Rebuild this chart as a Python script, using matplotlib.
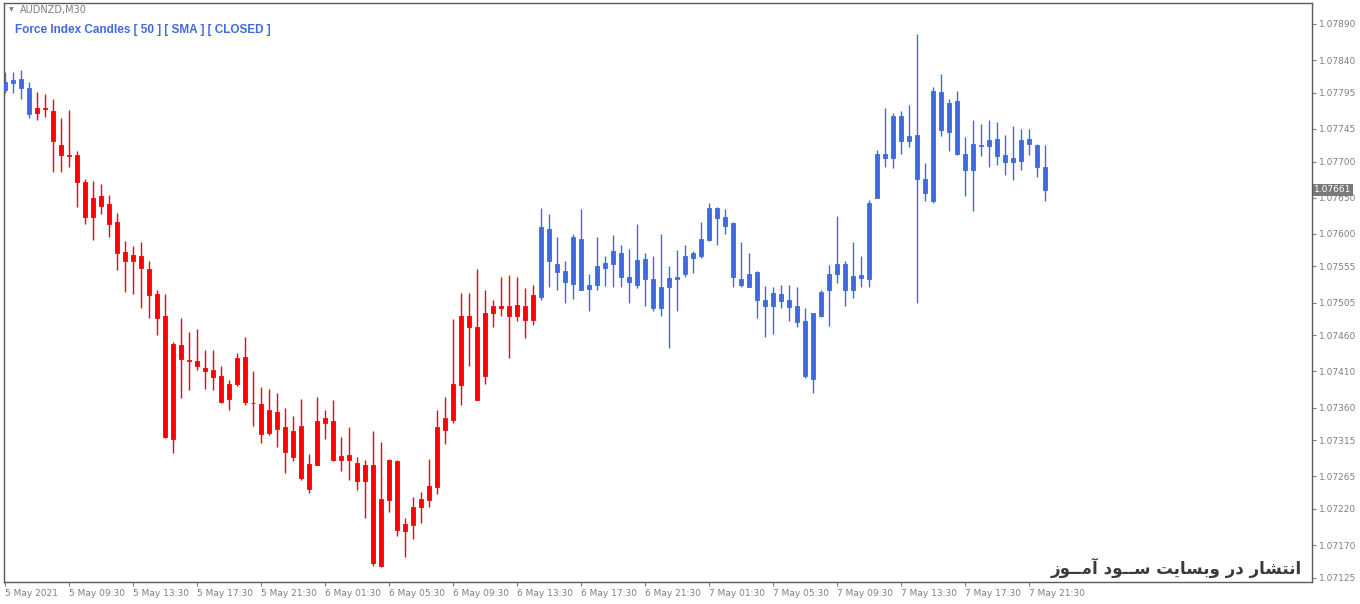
import matplotlib
matplotlib.use('Agg')
import matplotlib.pyplot as plt
import numpy as np
import pandas as pd

# AUDNZD M30 candles
opens = [1.07799, 1.07808, 1.07814, 1.07801, 1.07767, 1.07774, 1.07770, 1.07723, 1.07709, 1.07709,
         1.07671, 1.07624, 1.07652, 1.07641, 1.07616, 1.07575, 1.07562, 1.07570, 1.07552, 1.07517,
         1.07487, 1.07317, 1.07447, 1.07426, 1.07425, 1.07415, 1.07412, 1.07404, 1.07372, 1.07392,
         1.07430, 1.07367, 1.07365, 1.07325, 1.07354, 1.07333, 1.07292, 1.07334, 1.07248, 1.07281,
         1.07339, 1.07342, 1.07288, 1.07295, 1.07284, 1.07258, 1.07280, 1.07141, 1.07232, 1.07286,
         1.07190, 1.07198, 1.07222, 1.07232, 1.07250, 1.07329, 1.07343, 1.07391, 1.07487, 1.07471,
         1.07404, 1.07491, 1.07501, 1.07500, 1.07487, 1.07501, 1.07481, 1.07513, 1.07607, 1.07559,
         1.07549, 1.07531, 1.07593, 1.07524, 1.07529, 1.07553, 1.07559, 1.07574, 1.07540, 1.07529,
         1.07565, 1.07538, 1.07497, 1.07526, 1.07537, 1.07544, 1.07566, 1.07569, 1.07592, 1.07636,
         1.07623, 1.07615, 1.07538, 1.07527, 1.07547, 1.07509, 1.07500, 1.07517, 1.07508, 1.07500,
         1.07479, 1.07400, 1.07486, 1.07522, 1.07544, 1.07559, 1.07522, 1.07539, 1.07537, 1.07650,
         1.07711, 1.07705, 1.07763, 1.07729, 1.07737, 1.07676, 1.07646, 1.07796, 1.07741, 1.07783,
         1.07711, 1.07688, 1.07723, 1.07722, 1.07731, 1.07709, 1.07699, 1.07701, 1.07731, 1.07723,
         1.07693]
highs = [1.07824, 1.07824, 1.07827, 1.07810, 1.07796, 1.07793, 1.07787, 1.07760, 1.07771, 1.07715,
         1.07676, 1.07673, 1.07669, 1.07654, 1.07629, 1.07590, 1.07583, 1.07589, 1.07563, 1.07522,
         1.07517, 1.07451, 1.07484, 1.07464, 1.07468, 1.07440, 1.07440, 1.07418, 1.07398, 1.07435,
         1.07458, 1.07411, 1.07389, 1.07386, 1.07380, 1.07359, 1.07349, 1.07372, 1.07296, 1.07375,
         1.07356, 1.07371, 1.07319, 1.07333, 1.07292, 1.07287, 1.07328, 1.07312, 1.07289, 1.07287,
         1.07208, 1.07237, 1.07243, 1.07289, 1.07357, 1.07375, 1.07482, 1.07519, 1.07519, 1.07552,
         1.07523, 1.07509, 1.07541, 1.07543, 1.07540, 1.07525, 1.07530, 1.07636, 1.07628, 1.07595,
         1.07563, 1.07600, 1.07635, 1.07545, 1.07595, 1.07569, 1.07598, 1.07585, 1.07579, 1.07614,
         1.07574, 1.07570, 1.07600, 1.07556, 1.07578, 1.07585, 1.07576, 1.07616, 1.07643, 1.07637,
         1.07634, 1.07616, 1.07589, 1.07573, 1.07549, 1.07528, 1.07526, 1.07530, 1.07530, 1.07526,
         1.07497, 1.07490, 1.07523, 1.07557, 1.07625, 1.07563, 1.07589, 1.07570, 1.07647, 1.07716,
         1.07774, 1.07767, 1.07770, 1.07778, 1.07876, 1.07698, 1.07803, 1.07821, 1.07786, 1.07797,
         1.07734, 1.07758, 1.07752, 1.07758, 1.07755, 1.07737, 1.07749, 1.07745, 1.07745, 1.07724,
         1.07723]
lows = [1.07794, 1.07795, 1.07787, 1.07760, 1.07758, 1.07762, 1.07685, 1.07686, 1.07693, 1.07637,
        1.07614, 1.07591, 1.07628, 1.07596, 1.07550, 1.07520, 1.07517, 1.07497, 1.07484, 1.07460,
        1.07318, 1.07297, 1.07373, 1.07384, 1.07412, 1.07385, 1.07384, 1.07367, 1.07357, 1.07390,
        1.07363, 1.07334, 1.07311, 1.07322, 1.07306, 1.07270, 1.07286, 1.07260, 1.07242, 1.07280,
        1.07316, 1.07286, 1.07272, 1.07260, 1.07246, 1.07208, 1.07141, 1.07140, 1.07216, 1.07182,
        1.07154, 1.07179, 1.07201, 1.07222, 1.07241, 1.07310, 1.07339, 1.07363, 1.07417, 1.07370,
        1.07393, 1.07471, 1.07486, 1.07428, 1.07479, 1.07456, 1.07474, 1.07508, 1.07526, 1.07522,
        1.07504, 1.07510, 1.07522, 1.07493, 1.07522, 1.07528, 1.07526, 1.07526, 1.07505, 1.07525,
        1.07501, 1.07493, 1.07487, 1.07442, 1.07493, 1.07540, 1.07546, 1.07566, 1.07590, 1.07584,
        1.07600, 1.07526, 1.07526, 1.07526, 1.07484, 1.07457, 1.07462, 1.07497, 1.07480, 1.07471,
        1.07401, 1.07380, 1.07485, 1.07473, 1.07532, 1.07501, 1.07511, 1.07526, 1.07527, 1.07649,
        1.07693, 1.07691, 1.07711, 1.07720, 1.07504, 1.07646, 1.07643, 1.07735, 1.07715, 1.07709,
        1.07652, 1.07631, 1.07708, 1.07692, 1.07695, 1.07681, 1.07675, 1.07688, 1.07709, 1.07679,
        1.07646]
closes = [1.07810, 1.07813, 1.07801, 1.07765, 1.07774, 1.07773, 1.07728, 1.07709, 1.07707, 1.07671,
          1.07624, 1.07650, 1.07639, 1.07614, 1.07574, 1.07562, 1.07571, 1.07553, 1.07515, 1.07484,
          1.07319, 1.07448, 1.07427, 1.07425, 1.07417, 1.07411, 1.07402, 1.07368, 1.07393, 1.07429,
          1.07368, 1.07366, 1.07324, 1.07356, 1.07331, 1.07299, 1.07327, 1.07263, 1.07282, 1.07341,
          1.07345, 1.07288, 1.07293, 1.07287, 1.07259, 1.07281, 1.07145, 1.07234, 1.07287, 1.07191,
          1.07199, 1.07223, 1.07233, 1.07252, 1.07333, 1.07345, 1.07392, 1.07487, 1.07471, 1.07370,
          1.07490, 1.07501, 1.07498, 1.07486, 1.07502, 1.07481, 1.07516, 1.07610, 1.07562, 1.07548,
          1.07533, 1.07595, 1.07523, 1.07530, 1.07556, 1.07560, 1.07576, 1.07541, 1.07533, 1.07564,
          1.07537, 1.07497, 1.07526, 1.07539, 1.07541, 1.07569, 1.07573, 1.07593, 1.07636, 1.07622,
          1.07611, 1.07540, 1.07530, 1.07545, 1.07508, 1.07500, 1.07519, 1.07507, 1.07499, 1.07478,
          1.07404, 1.07490, 1.07520, 1.07545, 1.07559, 1.07522, 1.07542, 1.07543, 1.07643, 1.07711,
          1.07705, 1.07763, 1.07729, 1.07735, 1.07676, 1.07656, 1.07798, 1.07743, 1.07781, 1.07710,
          1.07688, 1.07724, 1.07721, 1.07730, 1.07708, 1.07700, 1.07705, 1.07730, 1.07724, 1.07693,
          1.07661]
# force index state per candle: 'b' = above, 'r' = below
fi_state = ['b'] * 4 + ['r'] * 63 + ['b'] * 64

price_ticks = [1.07125, 1.07170, 1.07220, 1.07265, 1.07315, 1.07360, 1.07410, 1.07460, 1.07505,
               1.07555, 1.07600, 1.07650, 1.07700, 1.07745, 1.07795, 1.07840, 1.07890]
last_price = 1.07661
symbol = 'AUDNZD,M30'
title = 'Force Index Candles [ 50 ] [ SMA ] [ CLOSED ]'

times = pd.date_range('2021-05-05 05:30', periods=len(opens), freq='30min')

# colours
blue = '#4169e1'
red = '#ff0000'
grey = '#7f7f7f'

fig = plt.figure(figsize=(13.6, 6.04), dpi=100)
fig.patch.set_facecolor('white')
ax = fig.add_axes([4 / 1360, 22 / 604, 1308 / 1360, 579 / 604])

x = np.arange(len(opens))
o = np.array(opens)
h = np.array(highs)
l = np.array(lows)
c = np.array(closes)
cols = [blue if s == 'b' else red for s in fi_state]

ax.vlines(x, l, h, colors=cols, linewidth=1.0, zorder=2)
bottom = np.minimum(o, c)
height = np.abs(c - o)
ax.bar(x, height, bottom=bottom, width=0.58, color=cols, edgecolor=cols,
       linewidth=0.6, zorder=3)

ax.set_xlim(-0.125, 163.375)
ax.set_ylim(1.07119, 1.07919)

# price axis on the right
ax.yaxis.tick_right()
ax.set_yticks(price_ticks)
ax.set_yticklabels(['%.5f' % p for p in price_ticks])
ax.tick_params(axis='y', direction='out', length=3, width=0.8, colors=grey,
               labelsize=6.5, pad=2, labelcolor=grey)

# time axis
tick_idx = list(range(0, len(opens), 8))
labels = []
for k in tick_idx:
    t = times[k]
    if k == 0:
        labels.append('%d %s %d' % (t.day, t.strftime('%b'), t.year))
    else:
        labels.append('%d %s' % (t.day, t.strftime('%b %H:%M')))
ax.set_xticks(tick_idx)
ax.set_xticklabels(labels)
ax.tick_params(axis='x', direction='out', length=3, width=0.8, colors=grey,
               labelsize=6.5, pad=2, labelcolor=grey)
for lab in ax.get_xticklabels():
    lab.set_horizontalalignment('left')

for sp in ax.spines.values():
    sp.set_color('#5a5a5a')
    sp.set_linewidth(1.0)

# last price tag
ax.text(1.0015, last_price, '%.5f' % last_price, transform=ax.get_yaxis_transform(),
        ha='left', va='center', fontsize=6.5, color='white',
        bbox=dict(boxstyle='square,pad=0.15', facecolor='#7a7a7a', edgecolor='none'),
        zorder=5, clip_on=False)

# header texts
fig.text(9 / 1360, 1 - 10 / 604, '\u25bc', fontsize=4.5, color=grey, va='center', ha='left')
fig.text(20 / 1360, 1 - 10 / 604, symbol, fontsize=7, color=grey, va='center', ha='left')
fig.text(15 / 1360, 1 - 30 / 604, title, fontsize=8.5, color=blue, fontweight='bold',
         family='Liberation Sans', va='center', ha='left')

# watermark (Persian, pre-shaped in visual order)
w5 = '\ufeaf\ufeee\u0640\u0640\ufee3\ufe81'
w4 = '\ufea9\ufeee\u0640\u0640\ufeb3'
w3 = '\ufe96\ufef3\ufe8e\ufeb4\ufe91\ufeed'
w2 = '\ufead\ufea9'
w1 = '\ufead\ufe8e\ufeb8\ufe98\ufee7\ufe8d'
wm = ' '.join([w5, w4, w3, w2, w1])
fig.text(1302 / 1360, 1 - 568 / 604, wm, fontsize=12, color='#3a3a3a', fontweight='bold',
         family='DejaVu Sans', va='center', ha='right')

fig.savefig('out.png', dpi=100, facecolor='white')
